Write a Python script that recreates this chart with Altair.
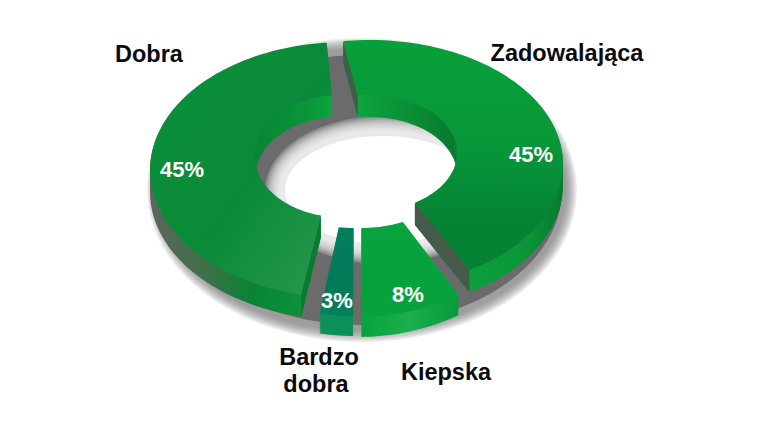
import math
import altair as alt

categories = ["Zadowalająca", "Kiepska", "Bardzo dobra", "Dobra"]
shares = [45, 8, 3, 45]
pct_labels = ["45%", "8%", "3%", "45%"]

START = -10.5
W, H = 748, 413
OX, OY = 8, 8


def stops(pairs, x1=0, y1=0, x2=1, y2=0):
    return alt.LinearGradient(
        gradient="linear",
        stops=[alt.GradientStop(color=c, offset=o) for o, c in pairs],
        x1=x1, y1=y1, x2=x2, y2=y2,
    )


LOOK = {
    "Zadowalająca": dict(
        c=(370, 164), r=(193, 124), ic=(370, 153), ir=(87, 58), depth=22, trim=(2.5, 2.5),
        top=stops([(0, "#07a03b"), (0.45, "#079739"), (0.8, "#068235"), (1, "#068235")], 0, 0, 0, 1),
        wall=stops([(0, "#0cab44"), (0.3, "#0a8f36"), (0.5, "#087a2e"), (0.58, "#0ca03c"), (0.85, "#0a9338"), (1, "#067a2c")]),
        cut_start="#3f5f48", cut_end="#465a4c",
    ),
    "Kiepska": dict(
        c=(358, 172), r=(190, 145), ic=(360, 188), ir=(81, 40), depth=20, trim=(-3.5, 1.3),
        top=stops([(0, "#07a33d"), (1, "#07a13d")], 0, 0, 0, 1),
        wall=stops([(0, "#07a33d"), (0.5, "#1aae4e"), (1, "#079c3a")]),
    ),
    "Bardzo dobra": dict(
        c=(354, 176), r=(178, 140), ic=(354, 188), ir=(79, 40), depth=20, trim=(0, 0),
        top=stops([(0, "#037f60"), (0.6, "#027a58"), (1, "#04805a")], 0, 0, 0, 1),
        wall=stops([(0, "#0d8f5c"), (1, "#0d8f5c")]),
    ),
    "Dobra": dict(
        c=(345, 170), r=(195, 128), ic=(340, 156), ir=(85, 61), depth=22, trim=(1.9, -1.5),
        top=stops([(0, "#0a9038"), (0.55, "#0a8a38"), (1, "#2a984f")], 0, 0, 1, 1),
        wall=stops([(0, "#5c665c"), (0.3, "#3f7048"), (0.55, "#0a8236"), (0.85, "#0a9439"), (1, "#0aa53c")]),
        cut_start="#0a7a30",
    ),
}


def ell(center, radii, t):
    r = math.radians(t)
    return [center[0] + radii[0] * math.sin(r), center[1] - radii[1] * math.cos(r)]


def span(t0, t1):
    n = max(2, int(abs(t1 - t0) / 1.5))
    return [t0 + (t1 - t0) * i / n for i in range(n + 1)]


def sector(g, t0, t1, dy=0):
    ring = [ell(g["c"], g["r"], t) for t in span(t0, t1)] + \
           [ell(g["ic"], g["ir"], t) for t in span(t1, t0)]
    ring = [[x, y + dy] for x, y in ring]
    return ring + [ring[0]]


def feature(geom_type, coords):
    return {"type": "Feature", "properties": {}, "geometry": {"type": geom_type, "coordinates": coords}}


def shape(feat, **mark):
    return (
        alt.Chart(alt.Data(values=[feat]))
        .mark_geoshape(strokeWidth=0, **mark)
        .project(type="identity", scale=1, translate=[-OX, -OY])
    )


def ellipse(cx, cy, a, b):
    pts = [[cx + a * math.sin(math.radians(t)), cy - b * math.cos(math.radians(t))] for t in range(0, 360, 4)]
    return feature("Polygon", [pts + [pts[0]]])


layers = []

# soft ground shadow
for i in range(8):
    g = 12 - 1.5 * i
    layers.append(shape(ellipse(362, 190, 203 + g, 140 + g), fill="#6b6b6b", opacity=0.12))
layers.append(shape(ellipse(362, 190, 200, 135), fill="#6b6b6b"))
# lit centre seen through the hole
for i in range(8):
    g = 16 - 2 * i
    layers.append(shape(ellipse(383, 190, 102 + g, 58 + g), fill="#ffffff", opacity=0.22))
layers.append(shape(ellipse(383, 190, 98, 54), fill="#ffffff"))

t = START
for name, share in zip(categories, shares):
    sweep = share / 100 * 360
    g = LOOK[name]
    t0, t1 = t + g["trim"][0], t + sweep - g["trim"][1]
    t += sweep
    copies = [[sector(g, t0, t1, d)] for d in range(1, g["depth"] + 1)]
    layers.append(shape(feature("MultiPolygon", copies), fill=g["wall"]))
    for key, ang in (("cut_start", t0), ("cut_end", t1)):
        if key in g:
            a, b = ell(g["c"], g["r"], ang), ell(g["ic"], g["ir"], ang)
            d = g["depth"]
            quad = [a, b, [b[0], b[1] + d], [a[0], a[1] + d], a]
            layers.append(shape(feature("Polygon", [quad]), fill=g[key]))
    layers.append(shape(feature("Polygon", [sector(g, t0, t1)]), fill=g["top"]))

name_rows = [
    {"t": "Dobra", "x": 149, "y": 55},
    {"t": "Zadowalająca", "x": 567, "y": 54},
    {"t": "Bardzo", "x": 319, "y": 358},
    {"t": "dobra", "x": 316, "y": 385},
    {"t": "Kiepska", "x": 446, "y": 373},
]
pct_pos = {"Zadowalająca": (531, 155), "Kiepska": (408, 295), "Bardzo dobra": (337, 301), "Dobra": (182, 170)}
pct_rows = [{"t": p, "x": pct_pos[c][0], "y": pct_pos[c][1]} for c, p in zip(categories, pct_labels)]


def texts(rows, color, size):
    rows = [{"t": r["t"], "x": r["x"] - OX, "y": r["y"] - OY} for r in rows]
    return alt.Chart(alt.Data(values=rows)).mark_text(
        font="Liberation Sans", fontWeight="bold", fontSize=size, color=color, align="center", baseline="middle"
    ).encode(
        x=alt.X("x:Q", scale=None, axis=None),
        y=alt.Y("y:Q", scale=None, axis=None),
        text="t:N",
    )


layers.append(texts(name_rows, "#0a0a0a", 23.5))
layers.append(texts(pct_rows, "#ffffff", 22))

chart = alt.layer(*layers).properties(
    width=W, height=H, padding=0, autosize=alt.AutoSizeParams(type="none"), background="#ffffff"
).configure_view(stroke=None)

chart.save("out.html", embed_options={"renderer": "svg", "actions": False})
